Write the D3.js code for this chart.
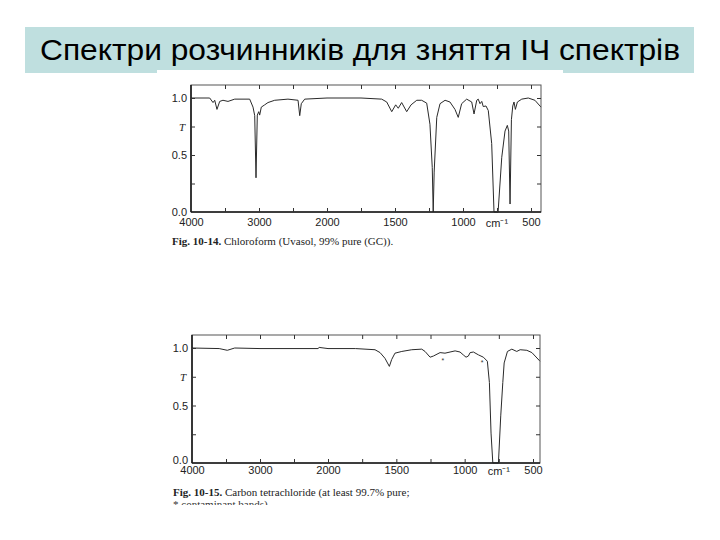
<!DOCTYPE html>
<html><head><meta charset="utf-8">
<script src="https://cdn.jsdelivr.net/npm/d3@7"></script>
<style>body{margin:0;background:#fff}svg{display:block}</style>
</head><body>
<svg id="c" width="720" height="540"></svg>
<script>
const titleText = "Спектри розчинників для зняття ІЧ спектрів";

// Chloroform spectrum (wavenumber, transmittance)
const wnChloroform = [4000,3725,3676,3651,3618,3578,3530,3456,3357,3137,
  3088,3063,3044,3025,3004,2990,2966,2916,2868,2769,
  2574,2426,2401,2378,2328,2000,1750,1598,1561,1524,
  1495,1476,1451,1414,1382,1340,1304,1267,1243,1226,
  1219,1212,1193,1169,1132,1096,1059,1035,1010,973,
  936,919,899,888,875,862,851,831,814,789,
  772,742,715,691,674,664,654,644,634,625,
  615,600,568,520,471,426];
const tChloroform = [1.0,1.0,0.96,0.98,0.90,0.97,0.98,0.97,0.99,0.99,
  0.92,0.845,0.30,0.85,0.88,0.85,0.92,0.94,0.96,0.98,
  0.99,0.98,0.845,0.95,0.99,1.0,1.0,0.99,0.965,0.88,
  0.94,0.91,0.96,0.88,0.94,0.98,0.98,0.955,0.77,0.39,
  0.0,0.35,0.83,0.95,0.98,0.965,0.90,0.83,0.95,0.99,
  0.965,0.86,0.98,0.99,0.95,0.97,0.925,0.93,0.89,0.60,
  0.0,0.0,0.48,0.71,0.76,0.71,0.07,0.81,0.93,0.965,
  0.90,0.965,0.99,1.0,0.98,0.92];

// Carbon tetrachloride spectrum
const wnCCl4 = [4000,3600,3481,3372,3000,2500,2147,2130,2000,1800,
  1656,1619,1583,1551,1534,1510,1460,1387,1314,1290,
  1253,1229,1180,1144,1107,1070,1034,1010,990,973,
  960,936,899,863,834,819,807,794,753,736,
  721,711,687,655,619,594,545,508,448];
const tCCl4 = [1.0,0.995,0.98,1.0,0.995,0.995,0.995,1.005,0.995,0.995,
  0.985,0.96,0.91,0.84,0.90,0.955,0.97,0.985,0.99,0.97,
  0.92,0.93,0.96,0.955,0.965,0.975,0.965,0.94,0.92,0.93,
  0.96,0.965,0.94,0.92,0.885,0.70,0.26,0.0,0.0,0.41,
  0.70,0.87,0.97,0.99,0.97,0.985,0.98,0.96,0.885];
const starWnCCl4 = [1160, 872];
const starTCCl4 = [0.915, 0.895];

const xTickValues = [3500,3000,2500,2000,1750,1500,1250,1000,750,500];
const xLabelValues = [4000,3000,2000,1500,1000,500];
const yTickValues = [0.25,0.5,0.75,1.0];
const yLabelValues = [0.0,0.5,1.0];
const unitLabel = "cm⁻¹";
const caption1Bold = "Fig. 10-14.";
const caption1Text = " Chloroform (Uvasol, 99% pure (GC)).";
const caption2Bold = "Fig. 10-15.";
const caption2Text = " Carbon tetrachloride (at least 99.7% pure;";
const caption2Line2 = "* contaminant bands)";

const svg = d3.select("#c");
svg.append("defs").append("clipPath").attr("id","pageclip")
  .append("rect").attr("x",0).attr("y",0).attr("width",720).attr("height",505);

// Title banner
svg.append("rect").attr("x",25).attr("y",27).attr("width",669).attr("height",46).attr("fill","#bfdfdf");
// chart image white area overlapping banner bottom
svg.append("rect").attr("x",157).attr("y",70).attr("width",406).attr("height",440).attr("fill","#fff");
svg.append("text").attr("x",40).attr("y",60)
  .attr("font-family","Arial, 'Liberation Sans', sans-serif").attr("font-size",30).attr("fill","#000")
  .attr("textLength",640).attr("lengthAdjust","spacingAndGlyphs")
  .text(titleText);

function drawSpectrum(cfg){
  const g = svg.append("g");
  const x = d3.scaleLinear().domain([4000,2000,500,cfg.end]).range([cfg.left,cfg.x2000,cfg.x500,cfg.right]);
  const y = d3.scaleLinear().domain([0,1]).range([cfg.y0,cfg.y1]);
  const yTop = cfg.top;
  const ink = "#1a1a1a";
  const pts = cfg.wn.map((w,i)=>[w,cfg.t[i]]);
  g.append("path").datum(pts)
    .attr("d", d3.line().x(d=>x(d[0])).y(d=>y(d[1])))
    .attr("fill","none").attr("stroke","#2a2a2a").attr("stroke-width",1);
  // frame
  g.append("rect").attr("x",cfg.left).attr("y",yTop).attr("width",cfg.right-cfg.left).attr("height",cfg.y0-yTop)
    .attr("fill","none").attr("stroke","#555").attr("stroke-width",1);
  g.append("line").attr("x1",cfg.left).attr("x2",cfg.left).attr("y1",yTop).attr("y2",cfg.y0).attr("stroke",ink).attr("stroke-width",1.6);
  g.append("line").attr("x1",cfg.left).attr("x2",cfg.right).attr("y1",cfg.y0).attr("y2",cfg.y0).attr("stroke",ink).attr("stroke-width",1.6);
  const tickStyle = sel => { sel.select(".domain").remove(); sel.selectAll("line").attr("stroke","#333").attr("stroke-width",1); };
  g.append("g").attr("transform",`translate(0,${cfg.y0})`)
    .call(d3.axisBottom(x).tickValues(xTickValues).tickSize(-4).tickFormat("")).call(tickStyle);
  g.append("g").attr("transform",`translate(0,${yTop})`)
    .call(d3.axisTop(x).tickValues(xTickValues).tickSize(-4).tickFormat("")).call(tickStyle);
  g.append("g").attr("transform",`translate(${cfg.left},0)`)
    .call(d3.axisLeft(y).tickValues(yTickValues).tickSize(-4).tickFormat("")).call(tickStyle);
  g.append("g").attr("transform",`translate(${cfg.right},0)`)
    .call(d3.axisRight(y).tickValues(yTickValues).tickSize(-4).tickFormat("")).call(tickStyle);
  const lab = sel => { sel.select(".domain").remove(); sel.selectAll("line").remove();
    sel.selectAll("text").attr("font-family","Arial, 'Liberation Sans', sans-serif").attr("font-size",11).attr("fill","#222"); };
  g.append("g").attr("transform",`translate(0,${cfg.y0})`)
    .call(d3.axisBottom(x).tickValues(xLabelValues).tickSize(0).tickPadding(cfg.xPad).tickFormat(d3.format("d"))).call(lab);
  const yl = g.append("g").attr("transform",`translate(${cfg.left},0)`)
    .call(d3.axisLeft(y).tickValues(yLabelValues).tickSize(0).tickPadding(4).tickFormat(d3.format(".1f"))).call(lab);
  yl.selectAll("text").filter(d=>d===0).attr("dy", cfg.zeroDy);
  g.append("text").attr("x",cfg.left-6).attr("y",y(0.75)+4).attr("text-anchor","end")
    .attr("font-family","'Liberation Serif', serif").attr("font-style","italic").attr("font-size",11).attr("fill","#222").text("T");
  g.append("text").attr("x",x(750)).attr("y",cfg.y0+cfg.xPad+9).attr("text-anchor","middle")
    .attr("font-family","Arial, 'Liberation Sans', sans-serif").attr("font-size",11).attr("fill","#222").text(unitLabel);
  const cap = g.append("g").attr("clip-path","url(#pageclip)");
  const t1 = cap.append("text").attr("x",cfg.left-19).attr("y",cfg.capY)
    .attr("font-family","'Liberation Serif', 'Times New Roman', serif").attr("font-size",11).attr("fill","#222");
  t1.append("tspan").attr("font-weight","bold").text(cfg.capBold);
  t1.append("tspan").text(cfg.capText);
  if (cfg.capLine2) {
    cap.append("text").attr("x",cfg.left-19).attr("y",cfg.capY+11.5)
      .attr("font-family","'Liberation Serif', 'Times New Roman', serif").attr("font-size",11).attr("fill","#333")
      .text(cfg.capLine2);
  }
  if (cfg.starWn) {
    g.selectAll("text.star").data(cfg.starWn).enter().append("text").attr("class","star")
      .attr("x",d=>x(d)).attr("y",(d,i)=>y(cfg.starT[i])+5).attr("text-anchor","middle")
      .attr("font-family","Arial, sans-serif").attr("font-size",7).attr("fill","#333").text("*");
  }
}

drawSpectrum({wn:wnChloroform,t:tChloroform,left:191,x2000:327,x500:531,right:541,end:426,
  y0:212,y1:98,top:85,xPad:6,zeroDy:"0.32em",capY:245,capBold:caption1Bold,capText:caption1Text});
drawSpectrum({wn:wnCCl4,t:tCCl4,left:192,x2000:328,x500:533,right:540,end:448,
  y0:463,y1:348,top:335,xPad:3,zeroDy:"0.05em",capY:496,capBold:caption2Bold,capText:caption2Text,capLine2:caption2Line2,
  starWn:starWnCCl4,starT:starTCCl4});
</script>
</body></html>
